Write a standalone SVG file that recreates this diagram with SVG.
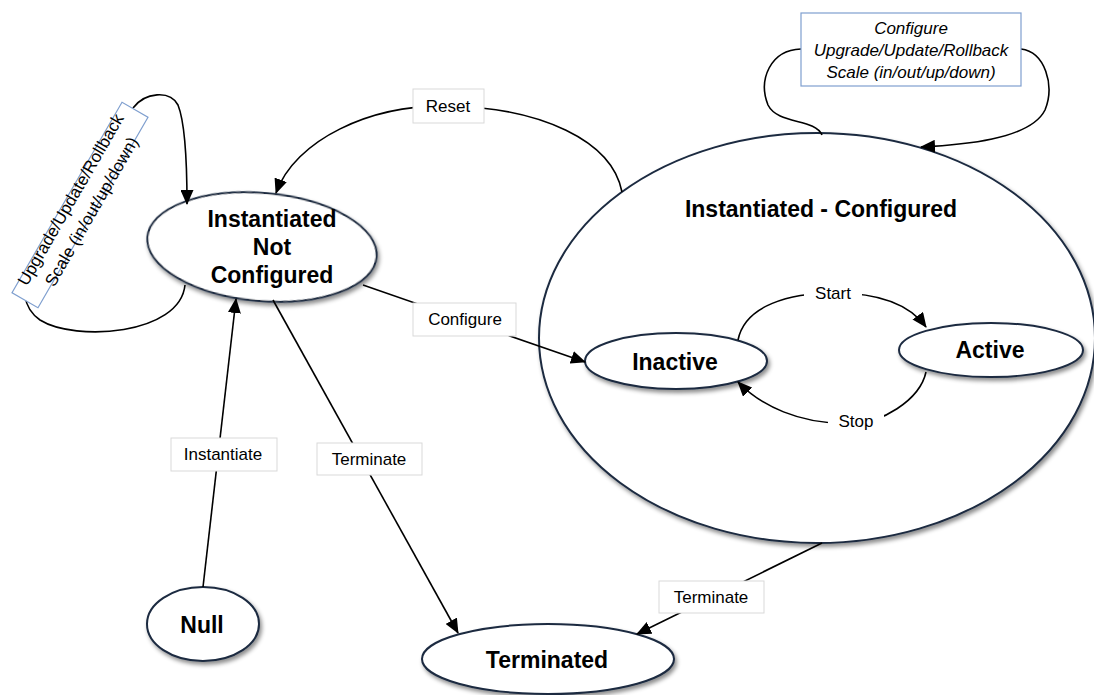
<svg xmlns="http://www.w3.org/2000/svg" width="1094" height="695" viewBox="0 0 1094 695">
<style>
.st{fill:#fff;stroke:#1b2a40;stroke-width:2;filter:url(#sh)}
.sn{font-family:"Liberation Sans",Arial,sans-serif;font-weight:bold;font-size:23px;fill:#000;text-anchor:middle}
.lb{font-family:"Liberation Sans",Arial,sans-serif;font-size:17px;fill:#000;text-anchor:middle}
.it{font-style:italic}
.ln{fill:none;stroke:#000;stroke-width:1.6}
.ar{marker-end:url(#arr)}
.bx{fill:#fff;stroke:#d9d9d9;stroke-width:1}
.bb{fill:#fff;stroke:#7f9fcf;stroke-width:1.2}
</style>
<defs>
<filter id="sh" x="-10%" y="-10%" width="125%" height="135%">
<feDropShadow dx="2" dy="3" stdDeviation="2" flood-color="#000" flood-opacity="0.45"/>
</filter>
<marker id="arr" markerWidth="15" markerHeight="13" refX="14" refY="6.5" orient="auto" markerUnits="userSpaceOnUse">
<path d="M0,0 L15,6.5 L0,13 z" fill="#000"/>
</marker>
</defs>
<rect width="1094" height="695" fill="#fff"/>
<g id="node-configured">
<ellipse class="st" cx="817" cy="338" rx="278" ry="205"/>
<text class="sn" x="821" y="217">Instantiated - Configured</text>
</g>
<g id="node-inc">
<ellipse class="st" cx="262" cy="247" rx="115" ry="54" transform="rotate(5 262 247)"/>
<text class="sn" x="272" y="227">Instantiated</text>
<text class="sn" x="272" y="255">Not</text>
<text class="sn" x="272" y="283">Configured</text>
</g>
<g id="node-inactive">
<ellipse class="st" cx="676" cy="361" rx="91" ry="28"/>
<text class="sn" x="675" y="370">Inactive</text>
</g>
<g id="node-active">
<ellipse class="st" cx="991" cy="350" rx="92" ry="27"/>
<text class="sn" x="990" y="358">Active</text>
</g>
<g id="node-null">
<ellipse class="st" cx="203" cy="624" rx="56" ry="37"/>
<text class="sn" x="202" y="633">Null</text>
</g>
<g id="node-terminated">
<ellipse class="st" cx="548" cy="659" rx="126" ry="35"/>
<text class="sn" x="547" y="668">Terminated</text>
</g>
<g id="connectors">
<path class="ln ar" d="M622,192 C612,140 540,108 450,106 C370,104 295,140 276,193"/>
<path class="ln" d="M185,285 C180,335 75,342 40,320 C30,313 26,303 25,296"/>
<path class="ln ar" d="M133,108 C145,92 170,90 178,105 C186,125 187,170 187,204"/>
<path class="ln ar" d="M363,285 L585,362"/>
<path class="ln ar" d="M203,587 L236,299"/>
<path class="ln ar" d="M273,300 L458,633"/>
<path class="ln ar" d="M822,543 L637,634"/>
<path class="ln ar" d="M738,340 C745,305 790,293 835,293 C880,293 910,305 926,327"/>
<path class="ln ar" d="M926,372 C920,400 880,425 850,423 C800,425 760,405 738,382"/>
<path class="ln" d="M801,49 C770,50 758,80 768,105 C778,125 815,118 822,135"/>
<path class="ln ar" d="M1021,49 C1045,52 1055,85 1045,110 C1030,140 960,145 921,147"/>
<rect class="bx" x="413" y="89" width="71" height="34"/>
<text class="lb" x="448" y="112">Reset</text>
<rect class="bx" x="413" y="303" width="103" height="33"/>
<text class="lb" x="465" y="325">Configure</text>
<rect class="bx" x="171" y="438" width="106" height="33"/>
<text class="lb" x="223" y="460">Instantiate</text>
<rect class="bx" x="317" y="443" width="105" height="32"/>
<text class="lb" x="369" y="465">Terminate</text>
<rect class="bx" x="659" y="581" width="105" height="32"/>
<text class="lb" x="711" y="603">Terminate</text>
<rect x="804" y="283" width="58" height="22" fill="#fff"/>
<text class="lb" x="833" y="299">Start</text>
<rect x="828" y="410" width="56" height="22" fill="#fff"/>
<text class="lb" x="856" y="427">Stop</text>
<rect class="bb" x="801" y="13" width="220" height="73"/>
<text class="lb it" x="911" y="34">Configure</text>
<text class="lb it" x="911" y="56">Upgrade/Update/Rollback</text>
<text class="lb it" x="911" y="78">Scale (in/out/up/down)</text>
<g transform="translate(80 205) rotate(-60)">
<rect class="bb" x="-110" y="-15" width="220" height="30"/>
<text class="lb" x="0" y="-5">Upgrade/Update/Rollback</text>
<text class="lb" x="0" y="19">Scale (in/out/up/down)</text>
</g>
</g>
</svg>
